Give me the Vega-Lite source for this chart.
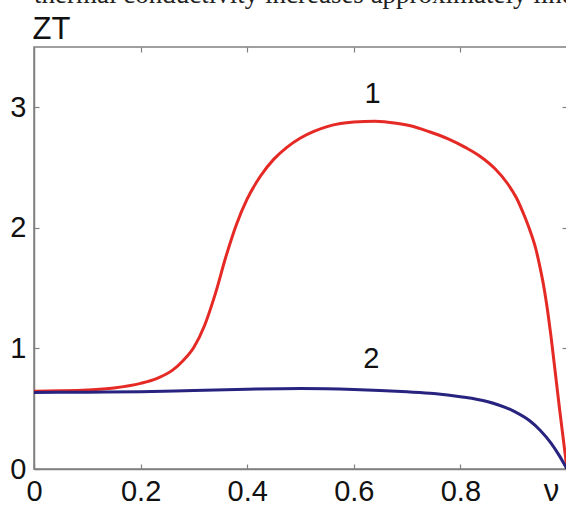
{
  "$schema": "https://vega.github.io/schema/vega-lite/v6.json",
  "width": 533,
  "height": 422,
  "autosize": {"type": "none"},
  "padding": {"left": 34, "top": 47, "right": 0, "bottom": 36},
  "background": "white",
  "title": {
    "text": "thermal conductivity increases approximately linearly",
    "anchor": "start",
    "frame": "group",
    "dx": 0,
    "dy": 17,
    "offset": 0,
    "baseline": "alphabetic",
    "font": "Liberation Serif",
    "fontSize": 27,
    "fontWeight": "normal",
    "color": "#222222"
  },
  "config": {
    "view": {"stroke": "#808080", "strokeWidth": 1.5},
    "axis": {
      "grid": false,
      "tickSize": -5,
      "tickColor": "#808080",
      "tickWidth": 1.2,
      "domainColor": "#808080",
      "domainWidth": 1.5,
      "labelFont": "Liberation Sans",
      "labelFontSize": 29,
      "labelColor": "#111111",
      "titleFont": "Liberation Sans",
      "titleFontSize": 31,
      "titleFontWeight": "normal",
      "titleColor": "#111111"
    }
  },
  "data": {
    "values": [
      {"v": 0.0, "zt": 0.645, "series": "1"},
      {"v": 0.05, "zt": 0.648, "series": "1"},
      {"v": 0.1, "zt": 0.655, "series": "1"},
      {"v": 0.15, "zt": 0.672, "series": "1"},
      {"v": 0.2, "zt": 0.71, "series": "1"},
      {"v": 0.23, "zt": 0.75, "series": "1"},
      {"v": 0.26, "zt": 0.82, "series": "1"},
      {"v": 0.28, "zt": 0.9, "series": "1"},
      {"v": 0.3, "zt": 1.01, "series": "1"},
      {"v": 0.32, "zt": 1.19, "series": "1"},
      {"v": 0.34, "zt": 1.45, "series": "1"},
      {"v": 0.36, "zt": 1.76, "series": "1"},
      {"v": 0.38, "zt": 2.03, "series": "1"},
      {"v": 0.4, "zt": 2.24, "series": "1"},
      {"v": 0.425, "zt": 2.43, "series": "1"},
      {"v": 0.45, "zt": 2.57, "series": "1"},
      {"v": 0.475, "zt": 2.67, "series": "1"},
      {"v": 0.5, "zt": 2.745, "series": "1"},
      {"v": 0.525, "zt": 2.8, "series": "1"},
      {"v": 0.55, "zt": 2.84, "series": "1"},
      {"v": 0.575, "zt": 2.865, "series": "1"},
      {"v": 0.6, "zt": 2.878, "series": "1"},
      {"v": 0.64, "zt": 2.885, "series": "1"},
      {"v": 0.68, "zt": 2.868, "series": "1"},
      {"v": 0.71, "zt": 2.843, "series": "1"},
      {"v": 0.74, "zt": 2.8, "series": "1"},
      {"v": 0.776, "zt": 2.74, "series": "1"},
      {"v": 0.81, "zt": 2.665, "series": "1"},
      {"v": 0.838, "zt": 2.59, "series": "1"},
      {"v": 0.865, "zt": 2.49, "series": "1"},
      {"v": 0.888, "zt": 2.37, "series": "1"},
      {"v": 0.905, "zt": 2.25, "series": "1"},
      {"v": 0.92, "zt": 2.1, "series": "1"},
      {"v": 0.932, "zt": 1.96, "series": "1"},
      {"v": 0.94, "zt": 1.85, "series": "1"},
      {"v": 0.95, "zt": 1.66, "series": "1"},
      {"v": 0.957, "zt": 1.5, "series": "1"},
      {"v": 0.964, "zt": 1.3, "series": "1"},
      {"v": 0.97, "zt": 1.1, "series": "1"},
      {"v": 0.978, "zt": 0.8, "series": "1"},
      {"v": 0.986, "zt": 0.5, "series": "1"},
      {"v": 0.993, "zt": 0.25, "series": "1"},
      {"v": 1.0, "zt": 0.0, "series": "1"},
      {"v": 0.0, "zt": 0.635, "series": "2"},
      {"v": 0.1, "zt": 0.637, "series": "2"},
      {"v": 0.2, "zt": 0.641, "series": "2"},
      {"v": 0.3, "zt": 0.652, "series": "2"},
      {"v": 0.4, "zt": 0.662, "series": "2"},
      {"v": 0.5, "zt": 0.668, "series": "2"},
      {"v": 0.6, "zt": 0.66, "series": "2"},
      {"v": 0.7, "zt": 0.64, "series": "2"},
      {"v": 0.75, "zt": 0.626, "series": "2"},
      {"v": 0.8, "zt": 0.6, "series": "2"},
      {"v": 0.85, "zt": 0.56, "series": "2"},
      {"v": 0.9, "zt": 0.48, "series": "2"},
      {"v": 0.93, "zt": 0.4, "series": "2"},
      {"v": 0.95, "zt": 0.32, "series": "2"},
      {"v": 0.97, "zt": 0.215, "series": "2"},
      {"v": 0.985, "zt": 0.115, "series": "2"},
      {"v": 1.0, "zt": 0.0, "series": "2"}
    ]
  },
  "layer": [
    {
      "mark": {"type": "line", "strokeWidth": 3, "interpolate": "monotone", "clip": true},
      "encoding": {
        "x": {
          "field": "v",
          "type": "quantitative",
          "scale": {"domain": [0, 1], "nice": false},
          "axis": {
            "orient": "bottom",
            "values": [0, 0.2, 0.4, 0.6, 0.8],
            "format": "~g",
            "labelPadding": 13,
            "labelBaseline": "top",
            "labelFlush": false,
            "title": "ν",
            "titleX": 517,
            "titleY": 31,
            "titleAlign": "center",
            "titleBaseline": "alphabetic"
          }
        },
        "y": {
          "field": "zt",
          "type": "quantitative",
          "scale": {"domain": [0, 3.5], "nice": false},
          "axis": {
            "orient": "left",
            "values": [0, 1, 2, 3],
            "labelPadding": 13,
            "labelFlush": false,
            "title": "ZT",
            "titleAngle": 0,
            "titleAlign": "left",
            "titleBaseline": "alphabetic",
            "titleX": -2,
            "titleY": -9
          }
        },
        "color": {
          "field": "series",
          "type": "nominal",
          "scale": {"domain": ["1", "2"], "range": ["#E52A25", "#27237F"]},
          "legend": null
        }
      }
    },
    {
      "mark": {"type": "point", "opacity": 0},
      "encoding": {
        "x": {
          "field": "v",
          "type": "quantitative",
          "axis": {
            "orient": "top",
            "values": [0.2, 0.4, 0.6, 0.8],
            "labels": false,
            "domain": false,
            "title": null
          }
        },
        "y": {
          "field": "zt",
          "type": "quantitative",
          "axis": {
            "orient": "right",
            "values": [1, 2, 3],
            "labels": false,
            "domain": false,
            "title": null
          }
        }
      }
    },
    {
      "data": {
        "values": [
          {"v": 0.635, "zt": 3.11, "label": "1"},
          {"v": 0.633, "zt": 0.912, "label": "2"}
        ]
      },
      "mark": {"type": "text", "font": "Liberation Sans", "fontSize": 29, "color": "#111111", "baseline": "middle", "align": "center"},
      "encoding": {
        "x": {"field": "v", "type": "quantitative", "axis": null},
        "y": {"field": "zt", "type": "quantitative", "axis": null},
        "text": {"field": "label"}
      }
    }
  ],
  "resolve": {"axis": {"x": "independent", "y": "independent"}}
}
